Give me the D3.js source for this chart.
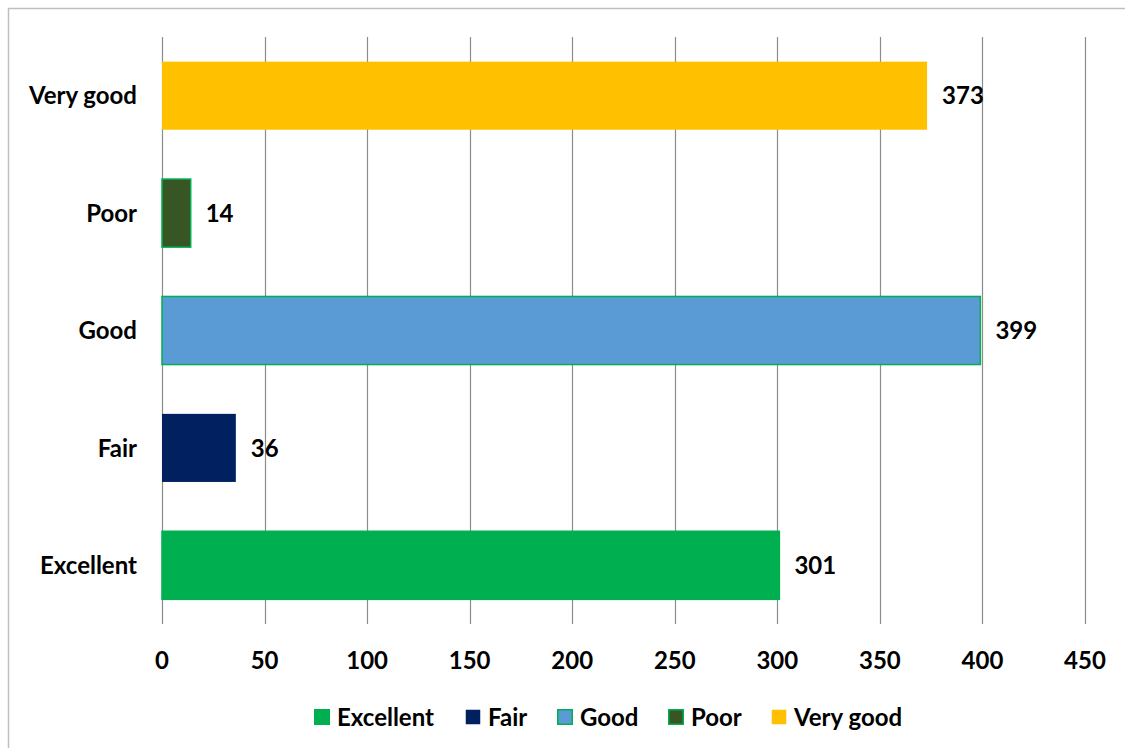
<!DOCTYPE html>
<html><head><meta charset="utf-8">
<script src="https://cdn.jsdelivr.net/npm/d3@7/dist/d3.min.js"></script>
<style>body{margin:0;background:#fff;} text{font-family:Lato,"Open Sans",sans-serif;font-weight:bold;}</style>
</head><body>
<svg id="c" width="1125" height="748"></svg>
<script>
const categories = ["Very good","Poor","Good","Fair","Excellent"];
const values = [373, 14, 399, 36, 301];
const fills = ["#FFC000","#375623","#5B9BD5","#002060","#00B050"];
const strokes = ["none","#00B050","#00B050","none","#00B050"];
const xTicks = [0,50,100,150,200,250,300,350,400,450];
const legendOrder = ["Excellent","Fair","Good","Poor","Very good"];
const FS = 24;

const svg = d3.select("#c");
// chart border
svg.append("path").attr("d","M8.5,748 V8.5 H1125").attr("fill","none").attr("stroke","#BFBFBF").attr("stroke-width",1.5);

const x = d3.scaleLinear().domain([0,450]).range([162,1085]);
const y = d3.scaleBand().domain(categories).range([37,624]).paddingInner(0.42).paddingOuter(0.21);

// gridlines
svg.append("g").selectAll("line").data(xTicks).join("line")
  .attr("x1",d=>Math.round(x(d))+0.5).attr("x2",d=>Math.round(x(d))+0.5)
  .attr("y1",37).attr("y2",624).attr("stroke","#8C8C8C").attr("stroke-width",1.2);

// bars
svg.append("g").selectAll("rect").data(categories).join("rect")
  .attr("x",x(0)).attr("y",d=>y(d))
  .attr("width",(d,i)=>x(values[i])-x(0)).attr("height",y.bandwidth())
  .attr("fill",(d,i)=>fills[i]).attr("stroke",(d,i)=>strokes[i]).attr("stroke-width",1.5);

// value labels
svg.append("g").selectAll("text").data(categories).join("text")
  .attr("x",(d,i)=>x(values[i])+15).attr("y",d=>y(d)+y.bandwidth()/2)
  .attr("dy","0.36em").attr("font-size",FS).attr("fill","#000").text((d,i)=>values[i]);

// category labels
svg.append("g").selectAll("text").data(categories).join("text")
  .attr("x",137).attr("y",d=>y(d)+y.bandwidth()/2).attr("text-anchor","end")
  .attr("dy","0.36em").attr("font-size",FS).attr("fill","#000").text(d=>d);

// x tick labels
svg.append("g").selectAll("text").data(xTicks).join("text")
  .attr("x",d=>x(d)).attr("y",660).attr("text-anchor","middle").attr("dy","0.36em")
  .attr("font-size",FS).attr("fill","#000").text(d=>d);

// legend
const legX = [314,465,557,668,771];
const lg = svg.append("g").selectAll("g").data(legendOrder).join("g")
  .attr("transform",(d,i)=>`translate(${legX[i]},717)`);
lg.append("rect").attr("x",0.75).attr("y",-7.25).attr("width",14.5).attr("height",14.5)
  .attr("fill",d=>fills[categories.indexOf(d)])
  .attr("stroke",d=>strokes[categories.indexOf(d)]).attr("stroke-width",1.5);
lg.append("text").attr("x",23).attr("y",0).attr("dy","0.36em").attr("font-size",FS).attr("fill","#000").text(d=>d);
</script>
</body></html>
